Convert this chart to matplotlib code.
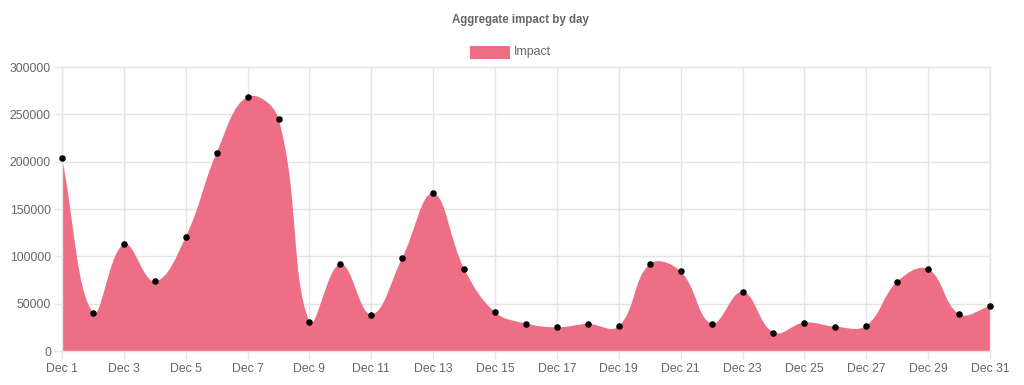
import numpy as np
import matplotlib
matplotlib.use("Agg")
import matplotlib.pyplot as plt
from matplotlib.path import Path
from matplotlib.patches import PathPatch, Rectangle

# ---- data ----
days = list(range(1, 32))
labels = [f"Dec {d}" for d in days]
impact = [204000, 40500, 113000, 73500, 120500, 209500, 268500, 245500, 31000, 92000,
          38500, 98500, 166500, 87000, 41000, 29000, 25000, 28500, 26000, 91800,
          84000, 29000, 62500, 19500, 30000, 25700, 26800, 73200, 86500, 39000, 47200]
yticks = [0, 50000, 100000, 150000, 200000, 250000, 300000]

FILL = "#EE6E85"
TXT = "#666666"
GRID = "#E5E5E5"

W, H = 1024, 385
fig = plt.figure(figsize=(W / 100, H / 100), dpi=100)
plt.rcParams['font.family'] = ['Liberation Sans', 'DejaVu Sans']

left, right, top, bottom = 62, 990, 67, 351
ax = fig.add_axes([left / W, 1 - bottom / H, (right - left) / W, (bottom - top) / H])
x = np.arange(len(impact))
ax.set_xlim(0, len(impact) - 1)
ax.set_ylim(0, 300000)

# Chart.js style (tension 0.4) spline computed in pixel space
pts = ax.transData.transform(np.column_stack([x, impact]))
n = len(pts)
t = 0.4
cp_prev = np.zeros_like(pts)
cp_next = np.zeros_like(pts)
for i in range(n):
    cur = pts[i]
    prev = pts[i - 1] if i > 0 else cur
    nxt = pts[i + 1] if i < n - 1 else cur
    d01 = np.hypot(*(cur - prev))
    d12 = np.hypot(*(nxt - cur))
    tot = d01 + d12
    s01 = d01 / tot if tot else 0
    s12 = d12 / tot if tot else 0
    cp_prev[i] = cur - t * s01 * (nxt - prev)
    cp_next[i] = cur + t * s12 * (nxt - prev)
# cap to chart area
bb = ax.bbox
for arr in (cp_prev, cp_next):
    arr[:, 0] = np.clip(arr[:, 0], bb.x0, bb.x1)
    arr[:, 1] = np.clip(arr[:, 1], bb.y0, bb.y1)
inv = ax.transData.inverted()
cp_prev_d = inv.transform(cp_prev)
cp_next_d = inv.transform(cp_next)

verts = [(x[0], 0), (x[0], impact[0])]
codes = [Path.MOVETO, Path.LINETO]
for i in range(n - 1):
    verts += [tuple(cp_next_d[i]), tuple(cp_prev_d[i + 1]), (x[i + 1], impact[i + 1])]
    codes += [Path.CURVE4] * 3
verts += [(x[-1], 0), (x[0], 0)]
codes += [Path.LINETO, Path.CLOSEPOLY]
ax.add_patch(PathPatch(Path(verts, codes), facecolor=FILL, edgecolor='none', zorder=2))

ax.plot(x, impact, linestyle='none', marker='o', markersize=3.7, color='black', zorder=3,
        clip_on=False)

# axes styling
ax.set_xticks(x[::2])
ax.set_xticklabels(labels[::2])
ax.set_yticks(yticks)
ax.set_yticklabels([str(v) for v in yticks])
ax.grid(True, color=GRID, linewidth=1, zorder=0)
ax.set_axisbelow(True)
for s in ax.spines.values():
    s.set_color(GRID)
    s.set_linewidth(1)
ax.tick_params(axis='both', colors=GRID, labelcolor=TXT, labelsize=8.8, length=6, width=1)
ax.tick_params(axis='x', pad=3)
ax.tick_params(axis='y', pad=2)

# title and legend
fig.text(520 / W, 1 - 20 / H, "Aggregate impact by day", ha='center', va='center',
         fontsize=8.3, fontweight='bold', color=TXT)
fig.patches.append(Rectangle((470 / W, 1 - 59 / H), 40 / W, 13 / H, transform=fig.transFigure,
                             facecolor=FILL, edgecolor='none'))
fig.text(514 / W, 1 - 52.5 / H, "Impact", ha='left', va='center', fontsize=8.8, color=TXT)

fig.savefig("out.png", dpi=100)
